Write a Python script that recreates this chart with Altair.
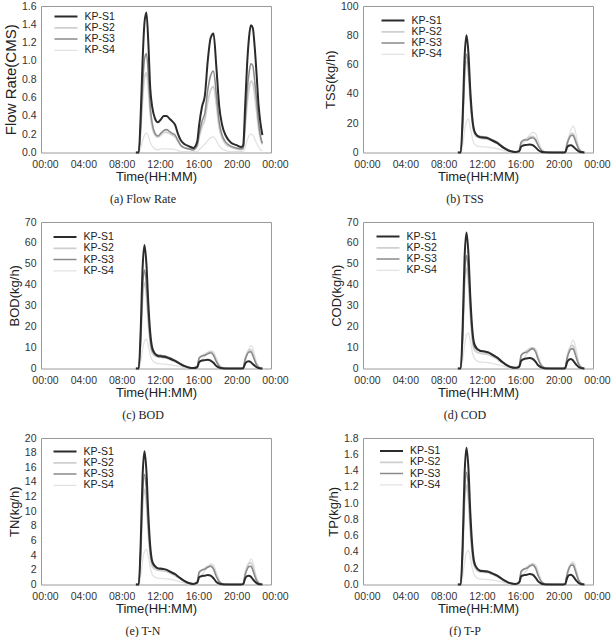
import altair as alt
import pandas as pd

HOURS = [9.9, 10.2, 10.4, 10.6, 10.8, 11.0, 11.2, 11.4, 11.6, 11.9,
         12.2, 12.5, 12.8, 13.1, 13.4, 13.7, 14.0, 14.3, 14.6, 15.0,
         15.4, 15.9, 16.3, 16.5, 16.8, 17.1, 17.4, 17.7, 18.0, 18.3,
         18.6, 18.9, 19.3, 19.8, 20.4, 20.9, 21.1, 21.3, 21.5, 21.7,
         21.9, 22.1, 22.3, 22.5, 22.7, 22.9, 23.1]
SERIES = ["KP-S1", "KP-S2", "KP-S3", "KP-S4"]
COLORS = ["#2b2b2b", "#cfcfcf", "#8a8a8a", "#e2e2e2"]
WIDTHS = [2.0, 1.3, 2.0, 1.2]
X_TICKS = [0, 4, 8, 12, 16, 20, 24]

FLOW = {
    "KP-S1": [0, 0.0, 0.40, 1.0, 1.42, 1.53, 1.20, 0.70, 0.50, 0.37, 0.33, 0.36, 0.40, 0.40, 0.37, 0.34, 0.30, 0.20, 0.13, 0.09, 0.07, 0.05, 0.12, 0.30, 0.50, 0.62, 1.00, 1.25, 1.30, 0.93, 0.50, 0.30, 0.18, 0.11, 0.08, 0.06, 0.08, 0.50, 0.95, 1.25, 1.39, 1.36, 1.15, 0.85, 0.52, 0.32, 0.19],
    "KP-S2": [0, 0, 0.22, 0.58, 0.82, 0.87, 0.70, 0.42, 0.28, 0.19, 0.17, 0.19, 0.22, 0.22, 0.21, 0.19, 0.17, 0.12, 0.07, 0.05, 0.04, 0.03, 0.07, 0.17, 0.28, 0.36, 0.55, 0.68, 0.72, 0.52, 0.27, 0.16, 0.09, 0.06, 0.04, 0.03, 0.04, 0.27, 0.52, 0.69, 0.78, 0.76, 0.62, 0.45, 0.27, 0.15, 0.09],
    "KP-S3": [0, 0, 0.28, 0.72, 1.02, 1.08, 0.85, 0.50, 0.32, 0.21, 0.18, 0.21, 0.24, 0.25, 0.23, 0.21, 0.19, 0.13, 0.08, 0.05, 0.04, 0.03, 0.08, 0.20, 0.34, 0.43, 0.68, 0.84, 0.89, 0.63, 0.33, 0.19, 0.11, 0.07, 0.05, 0.04, 0.05, 0.33, 0.65, 0.86, 0.97, 0.95, 0.78, 0.57, 0.33, 0.18, 0.10],
    "KP-S4": [0, 0, 0.05, 0.13, 0.19, 0.21, 0.18, 0.11, 0.07, 0.04, 0.03, 0.04, 0.04, 0.04, 0.04, 0.04, 0.03, 0.02, 0.01, 0.01, 0.01, 0.01, 0.01, 0.03, 0.06, 0.09, 0.13, 0.16, 0.17, 0.13, 0.07, 0.04, 0.02, 0.01, 0.01, 0.01, 0.01, 0.06, 0.13, 0.18, 0.20, 0.19, 0.15, 0.10, 0.06, 0.03, 0.02],
}
TSS = {
    "KP-S1": [0, 0, 25, 65, 80, 68, 42, 24, 15, 11.5, 10.5, 10.2, 10.0, 9.5, 8.5, 7.5, 6.5, 5.0, 3.5, 2.0, 0.8, 0.3, 0.8, 4.0, 5.0, 5.2, 5.5, 5.0, 3.5, 1.5, 0.5, 0.1, 0, 0, 0, 0, 0.2, 3.5, 4.8, 5.0, 4.3, 3.0, 1.8, 0.8, 0.3, 0.1, 0],
    "KP-S2": [0, 0, 18, 50, 62, 54, 34, 20, 13, 10.5, 9.8, 9.5, 9.3, 9, 8.2, 7.3, 6.3, 5, 3.7, 2.1, 0.9, 0.4, 1.5, 6.5, 8.5, 9.5, 10.5, 11, 9.5, 5, 1.8, 0.5, 0.1, 0, 0, 0, 0.5, 6.5, 10.5, 12.5, 13, 10.5, 6.5, 3, 1.2, 0.4, 0],
    "KP-S3": [0, 0, 20, 54, 67, 58, 37, 22, 15, 12, 11, 10.8, 10.5, 10, 9, 8, 7, 5.5, 4, 2.3, 1, 0.4, 1.5, 7, 8.5, 8.5, 9.5, 10, 8.5, 4.5, 1.5, 0.4, 0.1, 0, 0, 0, 0.5, 6, 9.5, 11.5, 11.8, 9, 5.5, 2.5, 1, 0.3, 0],
    "KP-S4": [0, 0, 5, 15, 21, 23, 17, 10, 6, 4.5, 4, 4, 3.8, 3.6, 3.3, 3, 2.6, 2.1, 1.5, 0.9, 0.4, 0.2, 0.8, 4, 7, 9.5, 12, 13.8, 13, 8, 3, 0.8, 0.2, 0, 0, 0, 0.3, 5, 11, 15.5, 18, 16, 10, 4.5, 1.8, 0.5, 0],
}
BOD = {
    "KP-S1": [0, 0, 18, 48, 59, 50, 31, 17, 10, 7, 6, 5.8, 5.6, 5.3, 4.8, 4.2, 3.6, 2.8, 2.0, 1.1, 0.5, 0.2, 0.6, 3.0, 3.8, 4.0, 4.2, 3.8, 2.7, 1.2, 0.4, 0.1, 0, 0, 0, 0, 0.15, 2.3, 3.3, 3.5, 3.0, 2.1, 1.3, 0.6, 0.2, 0.05, 0],
    "KP-S2": [0, 0, 12, 33, 41, 35, 22, 12, 7.5, 6, 5.5, 5.3, 5.1, 4.9, 4.4, 3.9, 3.3, 2.6, 1.9, 1.0, 0.4, 0.2, 0.9, 4.7, 6.0, 6.8, 7.6, 8.0, 6.9, 3.6, 1.3, 0.4, 0.1, 0, 0, 0, 0.4, 4.5, 7.3, 8.7, 9.0, 7.2, 4.5, 2.1, 0.8, 0.3, 0],
    "KP-S3": [0, 0, 14, 38, 47, 40, 25, 14, 8.5, 7, 6.5, 6.3, 6.1, 5.8, 5.2, 4.6, 3.9, 3.0, 2.2, 1.2, 0.5, 0.2, 1.0, 5.0, 6.0, 6.3, 7.0, 7.5, 6.3, 3.3, 1.1, 0.3, 0.1, 0, 0, 0, 0.4, 4.2, 6.6, 7.9, 8.0, 6.2, 3.8, 1.7, 0.7, 0.2, 0],
    "KP-S4": [0, 0, 3, 9, 13, 14, 11, 6.5, 4, 2.8, 2.3, 2.2, 2.1, 2.0, 1.8, 1.6, 1.4, 1.1, 0.8, 0.5, 0.2, 0.1, 0.5, 2.5, 4.3, 5.8, 7.3, 8.4, 8.0, 5.0, 1.9, 0.5, 0.1, 0, 0, 0, 0.2, 3.0, 6.5, 9.3, 11.0, 9.8, 6.2, 2.8, 1.1, 0.3, 0],
}
COD = {
    "KP-S1": [0, 0, 20, 53, 65, 55, 34, 19, 12, 9.5, 8.5, 8.2, 8.0, 7.6, 6.9, 6.0, 5.2, 4.0, 2.9, 1.6, 0.7, 0.3, 0.8, 3.6, 4.5, 4.8, 5.0, 4.6, 3.3, 1.4, 0.5, 0.1, 0, 0, 0, 0, 0.2, 3.0, 4.2, 4.5, 3.9, 2.7, 1.6, 0.7, 0.3, 0.1, 0],
    "KP-S2": [0, 0, 14, 39, 48, 41, 26, 14, 9, 7.8, 7.3, 7.1, 6.9, 6.6, 6.0, 5.3, 4.5, 3.5, 2.6, 1.4, 0.6, 0.3, 1.2, 5.9, 7.5, 8.5, 9.5, 10.0, 8.6, 4.5, 1.6, 0.5, 0.1, 0, 0, 0, 0.5, 5.5, 8.9, 10.6, 11.0, 8.8, 5.5, 2.6, 1.0, 0.3, 0],
    "KP-S3": [0, 0, 16, 44, 54, 46, 29, 16, 10.5, 9, 8.5, 8.3, 8.1, 7.8, 7.0, 6.2, 5.3, 4.1, 3.0, 1.6, 0.7, 0.3, 1.3, 6.3, 7.5, 7.8, 8.8, 9.5, 8.0, 4.2, 1.4, 0.4, 0.1, 0, 0, 0, 0.5, 5.0, 7.8, 9.3, 9.5, 7.4, 4.5, 2.0, 0.8, 0.2, 0],
    "KP-S4": [0, 0, 4, 11, 16, 17, 13, 8, 5, 3.6, 3.1, 3.0, 2.9, 2.8, 2.5, 2.2, 1.9, 1.5, 1.1, 0.6, 0.3, 0.1, 0.6, 3.0, 5.0, 6.8, 8.6, 9.9, 9.4, 5.9, 2.2, 0.6, 0.1, 0, 0, 0, 0.3, 3.7, 8.0, 11.4, 13.5, 12.0, 7.6, 3.4, 1.3, 0.4, 0],
}
TN = {
    "KP-S1": [0, 0, 5.5, 14.8, 18.2, 15.5, 9.5, 5.2, 3.2, 2.5, 2.2, 2.15, 2.1, 2.0, 1.8, 1.6, 1.4, 1.1, 0.8, 0.45, 0.2, 0.08, 0.25, 1.0, 1.15, 1.2, 1.3, 1.2, 0.85, 0.35, 0.12, 0.03, 0, 0, 0, 0, 0.05, 0.8, 1.15, 1.2, 1.05, 0.72, 0.42, 0.18, 0.07, 0.02, 0],
    "KP-S2": [0, 0, 3.9, 10.5, 13, 11, 6.9, 3.9, 2.5, 2.1, 1.95, 1.9, 1.85, 1.78, 1.6, 1.42, 1.2, 0.95, 0.7, 0.38, 0.17, 0.07, 0.32, 1.55, 1.95, 2.2, 2.45, 2.6, 2.25, 1.17, 0.42, 0.12, 0.02, 0, 0, 0, 0.14, 1.5, 2.4, 2.9, 3.0, 2.4, 1.5, 0.7, 0.27, 0.08, 0],
    "KP-S3": [0, 0, 4.5, 12.2, 15, 12.8, 8, 4.5, 2.9, 2.4, 2.25, 2.2, 2.15, 2.05, 1.85, 1.65, 1.4, 1.1, 0.8, 0.45, 0.2, 0.08, 0.35, 1.7, 2.0, 2.1, 2.35, 2.5, 2.1, 1.1, 0.37, 0.1, 0.02, 0, 0, 0, 0.13, 1.3, 2.05, 2.45, 2.5, 1.95, 1.2, 0.53, 0.2, 0.05, 0],
    "KP-S4": [0, 0, 1.1, 3.2, 4.5, 4.8, 3.8, 2.3, 1.4, 1.0, 0.85, 0.82, 0.8, 0.78, 0.72, 0.65, 0.57, 0.46, 0.34, 0.2, 0.09, 0.04, 0.18, 0.85, 1.4, 1.9, 2.4, 2.8, 2.65, 1.65, 0.62, 0.17, 0.03, 0, 0, 0, 0.08, 0.95, 2.05, 2.95, 3.5, 3.1, 1.95, 0.88, 0.34, 0.1, 0],
}
TP = {
    "KP-S1": [0, 0, 0.5, 1.36, 1.68, 1.43, 0.88, 0.48, 0.28, 0.2, 0.17, 0.165, 0.16, 0.155, 0.14, 0.125, 0.11, 0.085, 0.06, 0.035, 0.015, 0.006, 0.025, 0.1, 0.115, 0.12, 0.13, 0.12, 0.085, 0.035, 0.012, 0.003, 0, 0, 0, 0, 0.005, 0.08, 0.115, 0.12, 0.105, 0.072, 0.042, 0.018, 0.007, 0.002, 0],
    "KP-S2": [0, 0, 0.36, 0.99, 1.22, 1.04, 0.65, 0.37, 0.23, 0.17, 0.155, 0.15, 0.148, 0.142, 0.128, 0.115, 0.098, 0.077, 0.056, 0.031, 0.013, 0.005, 0.03, 0.15, 0.185, 0.21, 0.235, 0.25, 0.215, 0.11, 0.04, 0.011, 0.002, 0, 0, 0, 0.012, 0.13, 0.21, 0.25, 0.26, 0.21, 0.13, 0.06, 0.023, 0.006, 0],
    "KP-S3": [0, 0, 0.41, 1.12, 1.38, 1.18, 0.73, 0.41, 0.25, 0.19, 0.175, 0.17, 0.168, 0.16, 0.145, 0.13, 0.11, 0.087, 0.063, 0.035, 0.015, 0.006, 0.034, 0.16, 0.19, 0.2, 0.225, 0.24, 0.2, 0.105, 0.035, 0.01, 0.002, 0, 0, 0, 0.012, 0.125, 0.2, 0.235, 0.24, 0.19, 0.115, 0.05, 0.02, 0.005, 0],
    "KP-S4": [0, 0, 0.1, 0.28, 0.39, 0.42, 0.33, 0.2, 0.12, 0.08, 0.068, 0.065, 0.063, 0.061, 0.056, 0.05, 0.044, 0.035, 0.026, 0.015, 0.007, 0.003, 0.016, 0.08, 0.13, 0.175, 0.22, 0.255, 0.245, 0.155, 0.058, 0.016, 0.003, 0, 0, 0, 0.007, 0.08, 0.17, 0.24, 0.28, 0.25, 0.16, 0.072, 0.028, 0.008, 0],
}

# (y title, caption, data, y max, y step, format, legend x, legend y, y-title size)
PANELS = [
    ("Flow Rate(CMS)", "(a) Flow Rate", FLOW, 1.6, 0.2, ".1f", 12.5, 5, 15),
    ("TSS(kg/h)", "(b) TSS", TSS, 100, 20, "d", 17.5, 9, 13),
    ("BOD(kg/h)", "(c) BOD", BOD, 70, 10, "d", 11.5, 9.5, 13),
    ("COD(kg/h)", "(d) COD", COD, 70, 10, "d", 12.5, 9, 13),
    ("TN(kg/h)", "(e) T-N", TN, 20, 2, "d", 11.5, 8, 13),
    ("TP(kg/h)", "(f) T-P", TP, 1.8, 0.2, ".1f", 16, 7.5, 13),
]

DRAW_ORDER = ["KP-S4", "KP-S2", "KP-S3", "KP-S1"]


def make_panel(ytitle, caption, data, ymax, ystep, fmt, lx, ly, ysize):
    rows = []
    for s in DRAW_ORDER:
        for t, v in zip(HOURS, data[s]):
            rows.append({"t": t, "v": v, "series": s})
    df = pd.DataFrame(rows)
    n = int(round(ymax / ystep))
    yvals = [round(i * ystep, 2) for i in range(n + 1)]
    legend = alt.Legend(
        orient="none", legendX=lx, legendY=ly, symbolType="stroke",
        symbolSize=529, clipHeight=11, rowPadding=0.3, padding=0,
        labelFont="Liberation Sans", labelFontSize=10.5, labelColor="#222",
        labelOffset=6,
    )
    return alt.Chart(
        df,
        title=alt.TitleParams(caption, orient="bottom", frame="group", dx=-13,
                              offset=10, font="Liberation Serif", fontSize=12,
                              fontWeight="normal", color="#222"),
    ).mark_line(interpolate="monotone").encode(
        x=alt.X("t:Q", scale=alt.Scale(domain=[0, 24], nice=False, zero=False),
                axis=alt.Axis(values=X_TICKS, title="Time(HH:MM)", labelFlush=False,
                              labelOffset=4, labelPadding=6.5, titlePadding=1,
                              labelExpr="datum.value == 24 ? '00:00' : (datum.value < 10 ? '0' : '') + datum.value + ':00'")),
        y=alt.Y("v:Q", scale=alt.Scale(domain=[0, ymax], nice=False),
                axis=alt.Axis(values=yvals, format=fmt, title=ytitle,
                              titleFontSize=ysize, labelPadding=5, titlePadding=3)),
        color=alt.Color("series:N", scale=alt.Scale(domain=SERIES, range=COLORS),
                        legend=legend, title=None),
        strokeWidth=alt.StrokeWidth("series:N", scale=alt.Scale(domain=SERIES, range=WIDTHS),
                                    legend=legend, title=None),
    ).properties(width=230, height=146.5)


panels = [make_panel(*p) for p in PANELS]

chart = alt.concat(
    *panels, columns=2, spacing={"row": 69, "column": 92}, bounds="flush"
).resolve_scale(
    x="independent", y="independent", color="independent", strokeWidth="independent"
).resolve_legend(
    color="independent", strokeWidth="independent"
).configure_view(
    stroke="#9a9a9a", strokeWidth=1
).configure_axis(
    domain=False, ticks=False, grid=False,
    labelFont="Liberation Sans", labelFontSize=10.5, labelColor="#333",
    titleFont="Liberation Sans", titleFontSize=13, titleColor="#222",
    titleFontWeight="normal",
).properties(
    padding={"left": 2, "top": 0, "right": 0, "bottom": 0},
    background="white",
)

chart.save("out.html", embed_options={"renderer": "svg", "actions": False})
